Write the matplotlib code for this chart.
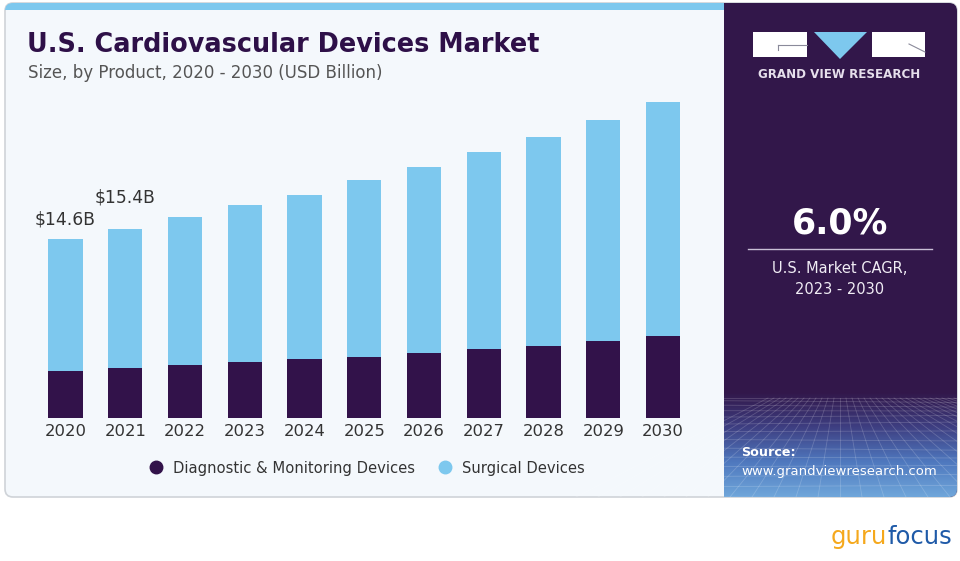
import numpy as np
import matplotlib
matplotlib.use('Agg')
from matplotlib import pyplot as plt
from matplotlib.patches import FancyBboxPatch, Rectangle, Polygon
from matplotlib.lines import Line2D
from matplotlib.colors import LinearSegmentedColormap

years = ['2020', '2021', '2022', '2023', '2024', '2025', '2026', '2027', '2028', '2029', '2030']
diagnostic = [3.8, 4.1, 4.3, 4.6, 4.8, 5.0, 5.3, 5.6, 5.9, 6.3, 6.7]
surgical = [10.8, 11.3, 12.1, 12.8, 13.4, 14.4, 15.2, 16.1, 17.0, 18.0, 19.1]
labels = {0: '$14.6B', 1: '$15.4B'}
label_offset = {0: 1.6, 1: 2.6}

dark = '#32124A'
light = '#7DC8EE'
panel = '#32174A'
bg_col = '#F4F8FC'

W, H = 960, 561
fig = plt.figure(figsize=(9.6, 5.61), dpi=100)
fig.patch.set_facecolor('white')

# background / decoration axes in pixel coords
bg = fig.add_axes([0, 0, 1, 1], zorder=0)
bg.set_xlim(0, W)
bg.set_ylim(H, 0)
bg.axis('off')

card = FancyBboxPatch((5, 3), 952, 494, boxstyle='round,pad=0,rounding_size=8',
                      facecolor=bg_col, edgecolor='#CFD3D8', lw=1.2, zorder=1)
bg.add_patch(card)
clip = FancyBboxPatch((5, 3), 952, 494, boxstyle='round,pad=0,rounding_size=8',
                      facecolor='none', edgecolor='none')
bg.add_patch(clip)

strip = Rectangle((5, 3), 720, 7, facecolor=light, edgecolor='none', zorder=2)
bg.add_patch(strip)
strip.set_clip_path(clip)
right = Rectangle((724, 3), 234, 494, facecolor=panel, edgecolor='none', zorder=2)
bg.add_patch(right)
right.set_clip_path(clip)

# gradient at bottom of right panel
cmap = LinearSegmentedColormap.from_list('g', [panel, '#3E3F82', '#4F78BE', '#6FA6DA'])
grad = np.linspace(0, 1, 100).reshape(-1, 1)
im = bg.imshow(grad, cmap=cmap, extent=(724, 958, 497, 392), aspect='auto', zorder=3)
im.set_clip_path(clip)
# mesh lines
for k in range(14):
    yy = 398 + 99 * (k / 13) ** 1.4
    ln, = bg.plot([724, 958], [yy, yy + 2 * np.sin(k)], color='white', alpha=0.18, lw=0.6, zorder=4)
    ln.set_clip_path(clip)
for k in range(-12, 22):
    x0 = 840 + k * 6
    x1 = 840 + k * 22
    ln, = bg.plot([x0, x1], [398, 497], color='white', alpha=0.18, lw=0.6, zorder=4)
    ln.set_clip_path(clip)

# logo
bg.add_patch(Rectangle((753, 32), 54, 25, facecolor='white', edgecolor='none', zorder=5))
bg.add_patch(Rectangle((872, 32), 53, 25, facecolor='white', edgecolor='none', zorder=5))
bg.add_patch(Polygon([(814, 32), (867, 32), (840, 59)], closed=True, facecolor=light,
                     edgecolor='none', zorder=5))
bg.plot([778, 807], [45, 45], color='#8A8A9A', lw=0.8, zorder=6)
bg.plot([778, 778], [45, 50], color='#8A8A9A', lw=0.8, zorder=6)
bg.plot([909, 925], [44, 52], color='#8A8A9A', lw=0.8, zorder=6)
bg.text(839, 74, 'GRAND VIEW RESEARCH', color='#E6DFEC', fontsize=8.6, fontweight='bold',
        ha='center', va='center', zorder=6)

bg.text(840, 223, '6.0%', color='white', fontsize=25, fontweight='bold',
        ha='center', va='center', zorder=6)
bg.plot([748, 932], [249, 249], color='#C9BFD6', lw=1, zorder=6)
bg.text(840, 268, 'U.S. Market CAGR,', color='#F0ECF4', fontsize=10.5,
        ha='center', va='center', zorder=6)
bg.text(840, 289, '2023 - 2030', color='#F0ECF4', fontsize=10.5,
        ha='center', va='center', zorder=6)

bg.text(741, 452, 'Source:', color='white', fontsize=9.2, fontweight='bold',
        ha='left', va='center', zorder=6)
bg.text(741, 471, 'www.grandviewresearch.com', color='white', fontsize=9.5,
        ha='left', va='center', zorder=6)

# titles
bg.text(27, 45, 'U.S. Cardiovascular Devices Market', color='#2E1048', fontsize=18.4,
        fontweight='bold', ha='left', va='center', zorder=6)
bg.text(28, 73, 'Size, by Product, 2020 - 2030 (USD Billion)', color='#555555', fontsize=12,
        ha='left', va='center', zorder=6)

# gurufocus
bg.text(887, 537, 'guru', color='#F5A81C', fontsize=17.5, ha='right', va='center', zorder=6)
bg.text(887, 537, 'focus', color='#1F5AA8', fontsize=17.5, ha='left', va='center', zorder=6)

# bar chart axes
x = np.arange(len(years))
ax = fig.add_axes([30 / W, (H - 418) / H, 670 / W, 328 / H], zorder=2)
ax.patch.set_alpha(0)
ax.set_xlim((30 - 65.5) / 59.75, (700 - 65.5) / 59.75)
ax.set_ylim(0, 328 / 12.26)
ax.bar(x, diagnostic, width=0.57, color=dark, edgecolor='none')
ax.bar(x, surgical, width=0.57, bottom=diagnostic, color=light, edgecolor='none')
for i, txt in labels.items():
    ax.text(x[i], diagnostic[i] + surgical[i] + label_offset[i], txt, ha='center', va='center',
            fontsize=12.3, color='#333333')
ax.set_xticks(x)
ax.set_xticklabels(years, fontsize=11.8, color='#333333')
ax.tick_params(axis='x', length=0, pad=4)
ax.set_yticks([])
for s in ax.spines.values():
    s.set_visible(False)

handles = [Line2D([], [], marker='o', ls='none', color=dark, markersize=9),
           Line2D([], [], marker='o', ls='none', color=light, markersize=9)]
fig.legend(handles, ['Diagnostic & Monitoring Devices', 'Surgical Devices'],
           loc='center', bbox_to_anchor=(363 / W, 1 - 468 / H), ncol=2, frameon=False,
           fontsize=10.6, handletextpad=0.2, columnspacing=1.0, labelcolor='#333333')

fig.savefig('out.png', dpi=100, facecolor='white')
